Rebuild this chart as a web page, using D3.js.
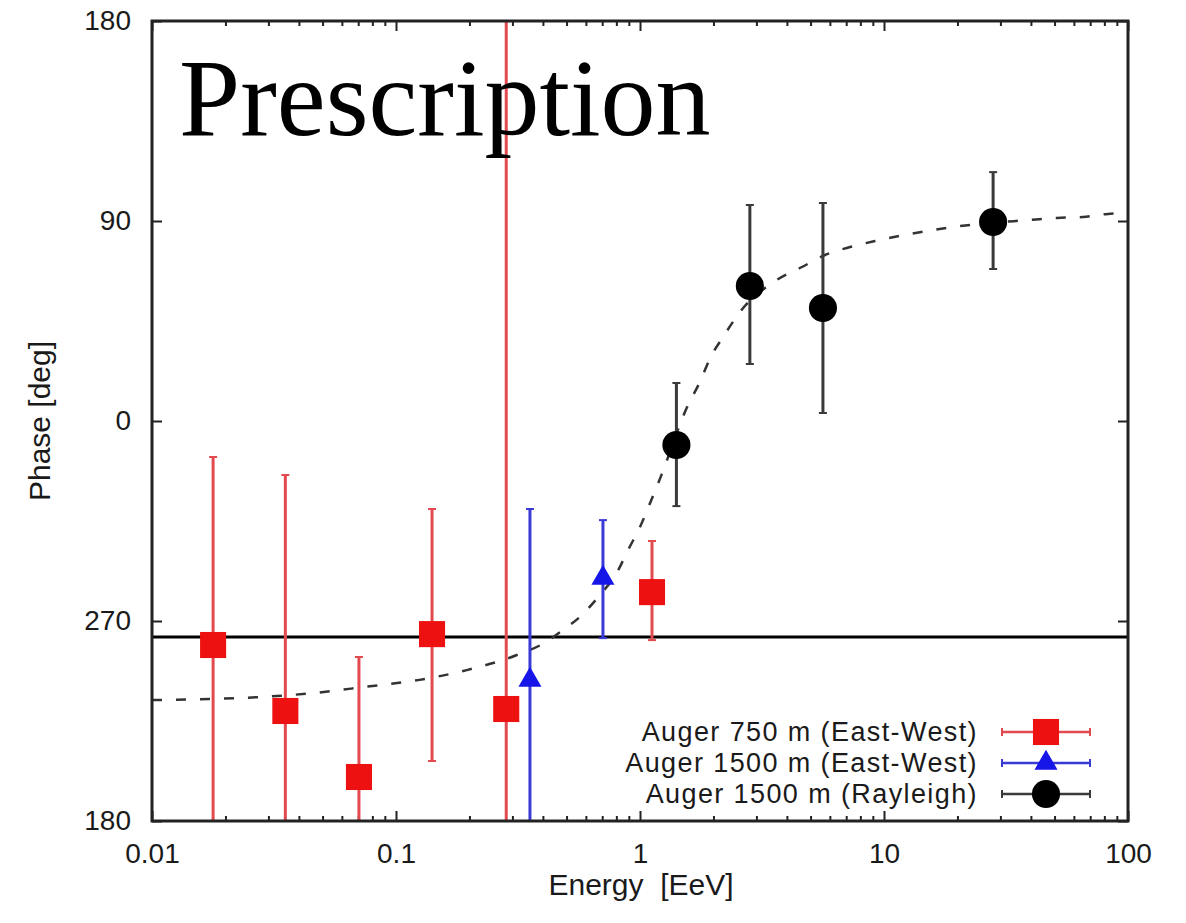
<!DOCTYPE html>
<html>
<head>
<meta charset="utf-8">
<script src="https://cdn.jsdelivr.net/npm/d3@7"></script>
<style>
  body { margin: 0; background: #fff; }
  text { font-family: "Liberation Sans", Arial, Helvetica, sans-serif; }
</style>
</head>
<body>
<div id="chart"></div>
<script>
// DATA =========================================
// energies in EeV, phases in degrees (-180..180, shown as 180..360 below 0)
const redEnergy = [0.0178, 0.0352, 0.0705, 0.1405, 0.283, 1.12];
const redPhase  = [-100.8, -130.5, -160.2, -95.9, -129.6, -77.0];
const redLo     = [-200, -200, -200, -153.0, -200, -98.6];
const redHi     = [-16.2, -24.3, -106.2, -39.6, 200, -54.0];

const blueEnergy = [0.354, 0.705];
const bluePhase  = [-116.6, -70.7];
const blueLo     = [-200, -97.7];
const blueHi     = [-39.6, -44.6];

const blackEnergy = [1.41, 2.82, 5.62, 28.0];
const blackPhase  = [-10.8, 60.75, 50.85, 89.55];
const blackLo     = [-38.3, 25.65, 3.6, 68.4];
const blackHi     = [17.1, 97.2, 98.1, 112.0];

// dashed fit curve
const fitEnergy = [0.01, 0.0171, 0.028, 0.0461, 0.074, 0.123, 0.195, 0.313, 0.405, 0.483,
                   0.578, 0.685, 0.806, 0.893, 1.0, 1.10, 1.21, 1.56, 1.76, 1.94, 2.19, 2.57,
                   3.64, 4.61, 5.73, 7.26, 9.19, 11.6, 15.0, 19.2, 39.7, 51.2, 65.4, 82.8, 100];
const fitPhase  = [-125.6, -125.1, -124.2, -122.4, -119.7, -116.6, -112.1, -105.3, -99.9, -94.1,
                   -87.3, -78.3, -68.0, -58.1, -47.7, -36.9, -25.7, 6.3, 17.6, 28.4, 37.8, 49.1,
                   63.5, 69.3, 74.7, 78.3, 81.0, 83.3, 85.5, 87.3, 90.5, 91.4, 91.8, 93.2, 93.6];

const refPhase = -97.2;

const xTicks = [0.01, 0.1, 1, 10, 100];
const yTicks = [-180, -90, 0, 90, 180];
const legendLabels = ["Auger 750 m (East-West)", "Auger 1500 m (East-West)", "Auger 1500 m (Rayleigh)"];

// SETUP ========================================
const width = 1186, height = 923;
const plot = { left: 152, right: 1128, top: 21, bottom: 821 };

const svg = d3.select("#chart").append("svg")
  .attr("width", width)
  .attr("height", height)
  .style("background", "#fff");

const xScale = d3.scaleLog().domain([0.01, 100]).range([plot.left, plot.right]);
const yScale = d3.scaleLinear().domain([-180, 180]).range([plot.bottom, plot.top]);

svg.append("clipPath").attr("id", "plotclip")
  .append("rect")
  .attr("x", plot.left).attr("y", plot.top)
  .attr("width", plot.right - plot.left).attr("height", plot.bottom - plot.top);

const fmtPhase = d => d < 0 ? d + 360 : d;

// minor log ticks
const minorTicks = [];
xTicks.slice(0, -1).forEach(t => { for (let k = 2; k <= 9; k++) minorTicks.push(t * k); });

// AXES =========================================
const styleAxis = g => {
  g.select(".domain").remove();
  g.selectAll(".tick line").attr("stroke", "#222").attr("stroke-width", 2);
};

svg.append("g")
  .attr("transform", `translate(0,${plot.bottom})`)
  .call(d3.axisBottom(xScale).tickValues(xTicks).tickFormat(d3.format("~g")).tickSize(-10).tickPadding(22))
  .call(styleAxis)
  .selectAll("text").style("font-size", "28px").attr("fill", "#1a1a1a");

svg.append("g")
  .attr("transform", `translate(0,${plot.bottom})`)
  .call(d3.axisBottom(xScale).tickValues(minorTicks).tickFormat("").tickSize(-5))
  .call(styleAxis);

svg.append("g")
  .attr("transform", `translate(0,${plot.top})`)
  .call(d3.axisTop(xScale).tickValues(xTicks).tickFormat("").tickSize(-10))
  .call(styleAxis);

svg.append("g")
  .attr("transform", `translate(0,${plot.top})`)
  .call(d3.axisTop(xScale).tickValues(minorTicks).tickFormat("").tickSize(-5))
  .call(styleAxis);

svg.append("g")
  .attr("transform", `translate(${plot.left},0)`)
  .call(d3.axisLeft(yScale).tickValues(yTicks).tickFormat(fmtPhase).tickSize(-10).tickPadding(21))
  .call(styleAxis)
  .selectAll("text").style("font-size", "28px").attr("fill", "#1a1a1a");

svg.append("g")
  .attr("transform", `translate(${plot.right},0)`)
  .call(d3.axisRight(yScale).tickValues(yTicks).tickFormat("").tickSize(-10))
  .call(styleAxis);

// axis titles
svg.append("text")
  .attr("x", (plot.left + plot.right) / 2 + 1)
  .attr("y", 895)
  .attr("text-anchor", "middle")
  .attr("fill", "#1a1a1a")
  .style("font-size", "30px")
  .style("white-space", "pre")
  .text("Energy  [EeV]");

svg.append("text")
  .attr("transform", `translate(50,${(plot.top + plot.bottom) / 2}) rotate(-90)`)
  .attr("text-anchor", "middle")
  .attr("fill", "#1a1a1a")
  .style("font-size", "30px")
  .text("Phase [deg]");

// PLOT CONTENT =================================
const inner = svg.append("g").attr("clip-path", "url(#plotclip)");

// reference line
inner.append("line")
  .attr("x1", plot.left).attr("x2", plot.right)
  .attr("y1", yScale(refPhase)).attr("y2", yScale(refPhase))
  .attr("stroke", "#000").attr("stroke-width", 3);

// fit curve
const fit = fitEnergy.map((e, i) => ({ e, p: fitPhase[i] }));
inner.append("path")
  .datum(fit)
  .attr("fill", "none")
  .attr("stroke", "#333")
  .attr("stroke-width", 2.5)
  .attr("stroke-dasharray", "10,14")
  .attr("d", d3.line().x(d => xScale(d.e)).y(d => yScale(d.p)).curve(d3.curveMonotoneX));

const series = [
  { name: legendLabels[0], energy: redEnergy, phase: redPhase, lo: redLo, hi: redHi,
    bar: "#e34a4f", fill: "#ee1111", symbol: d3.symbolSquare, size: 680 },
  { name: legendLabels[1], energy: blueEnergy, phase: bluePhase, lo: blueLo, hi: blueHi,
    bar: "#3a3ad6", fill: "#1616e8", symbol: d3.symbolTriangle, size: 230 },
  { name: legendLabels[2], energy: blackEnergy, phase: blackPhase, lo: blackLo, hi: blackHi,
    bar: "#3a3a3a", fill: "#000", symbol: d3.symbolCircle, size: 620 }
];

series.forEach(s => {
  const pts = s.energy.map((e, i) => ({ e, p: s.phase[i], lo: s.lo[i], hi: s.hi[i] }));
  const g = inner.append("g");

  g.selectAll("line.err")
    .data(pts)
    .join("line")
    .attr("class", "err")
    .attr("x1", d => xScale(d.e)).attr("x2", d => xScale(d.e))
    .attr("y1", d => yScale(d.lo)).attr("y2", d => yScale(d.hi))
    .attr("stroke", s.bar).attr("stroke-width", 3);

  // caps
  ["lo", "hi"].forEach(k => {
    g.selectAll(`line.cap-${k}`)
      .data(pts)
      .join("line")
      .attr("class", `cap-${k}`)
      .attr("x1", d => xScale(d.e) - 4).attr("x2", d => xScale(d.e) + 4)
      .attr("y1", d => yScale(d[k])).attr("y2", d => yScale(d[k]))
      .attr("stroke", s.bar).attr("stroke-width", 2);
  });

  g.selectAll("path.pt")
    .data(pts)
    .join("path")
    .attr("class", "pt")
    .attr("transform", d => `translate(${xScale(d.e)},${yScale(d.p)})`)
    .attr("d", d3.symbol().type(s.symbol).size(s.size))
    .attr("fill", s.fill);
});

// frame
svg.append("rect")
  .attr("x", plot.left).attr("y", plot.top)
  .attr("width", plot.right - plot.left).attr("height", plot.bottom - plot.top)
  .attr("fill", "none").attr("stroke", "#222").attr("stroke-width", 3);

// LEGEND =======================================
const legend = svg.append("g");
series.forEach((s, i) => {
  const y = 732 + i * 31;
  legend.append("text")
    .attr("x", 978).attr("y", y)
    .attr("dy", "0.35em")
    .attr("text-anchor", "end")
    .attr("fill", "#1a1a1a")
    .style("font-size", "27px")
    .style("letter-spacing", "1.4px")
    .text(s.name);
  legend.append("line")
    .attr("x1", 1002).attr("x2", 1090).attr("y1", y).attr("y2", y)
    .attr("stroke", s.bar).attr("stroke-width", 2.5);
  [1002, 1090].forEach(cx => legend.append("line")
    .attr("x1", cx).attr("x2", cx).attr("y1", y - 4).attr("y2", y + 4)
    .attr("stroke", s.bar).attr("stroke-width", 2));
  legend.append("path")
    .attr("transform", `translate(1046,${y})`)
    .attr("d", d3.symbol().type(s.symbol).size(s.size))
    .attr("fill", s.fill);
});

// overlay title
svg.append("text")
  .attr("x", 179).attr("y", 135)
  .attr("fill", "#000")
  .style("font-family", "'Liberation Serif', 'Times New Roman', serif")
  .style("font-size", "110px")
  .text("Prescription");
</script>
</body>
</html>
